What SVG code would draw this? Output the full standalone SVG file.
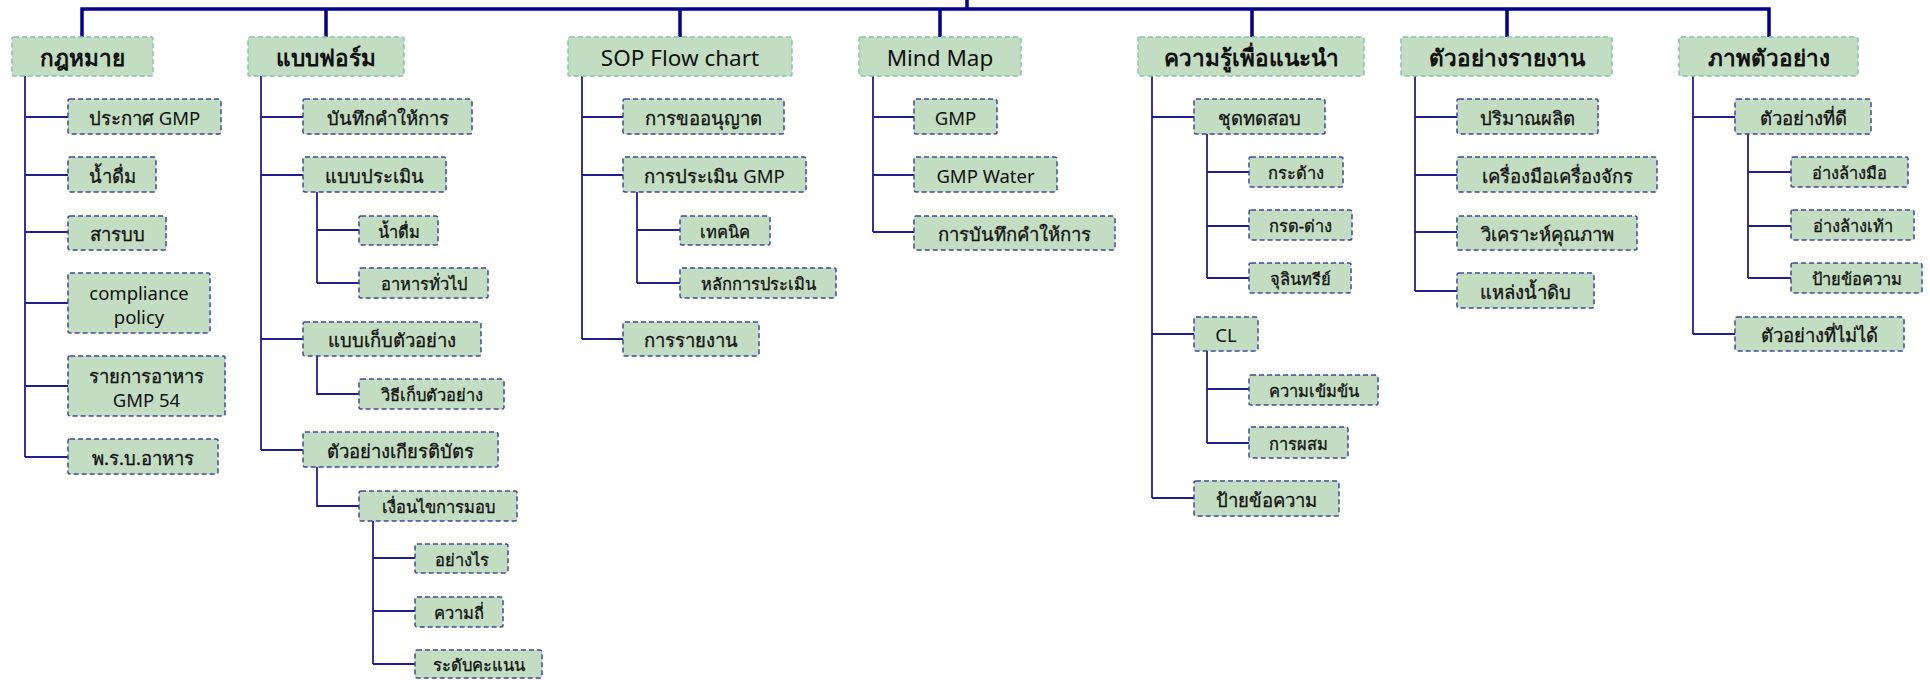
<svg xmlns="http://www.w3.org/2000/svg" width="1930" height="680" viewBox="0 0 1930 680">
  <style>
    .bg { fill: #ffffff; }
    .head rect { fill: #c3ddc2; stroke: #86c4a6; stroke-width: 1.5; stroke-dasharray: 5 3; }
    .node rect { fill: #c3ddc2; stroke: #3c4a9c; stroke-width: 1.5; stroke-dasharray: 5 3; }
    text { font-family: "Noto Sans", "DejaVu Sans", sans-serif; fill: #111111; text-anchor: middle; dominant-baseline: central; }
    .head text { font-size: 22.5px; }
    .head text.b { font-weight: bold; }
    .l2 text { font-size: 18.5px; stroke: #111111; stroke-width: 0.3; }
    .l3 text { font-size: 16.5px; stroke: #111111; stroke-width: 0.3; }
    .node .lat, .node text.lat { stroke: none; }
    .trunk { fill: none; stroke: #00008a; stroke-width: 3.5; }
    .branch { fill: none; stroke: #1e1e90; stroke-width: 1.8; }
  </style>
  <rect class="bg" x="0" y="0" width="1930" height="680"/>

  <!-- connectors -->
  <g id="connectors">
    <path class="trunk" d="M967 0V9 M82 37V9H1769V37 M326 9V37 M680 9V37 M940 9V37 M1252 9V37 M1507 9V37"/>
    <!-- law -->
    <path class="branch" d="M25 76V457 M25 117H68 M25 175H68 M25 232H68 M25 303H68 M25 386H68 M25 457H68"/>
    <!-- forms -->
    <path class="branch" d="M261 76V450 M261 117H303 M261 175H303 M261 339H303 M261 450H303
      M317 192V283 M317 230H359 M317 283H359
      M317 356V394H359
      M317 467V506H359
      M373 521V664 M373 558H415 M373 611H415 M373 664H415"/>
    <!-- SOP -->
    <path class="branch" d="M582 76V339 M582 117H623 M582 175H623 M582 339H623 M637 192V283 M637 230H680 M637 283H680"/>
    <!-- mind map -->
    <path class="branch" d="M873 76V232 M873 117H914 M873 175H914 M873 232H914"/>
    <!-- knowledge -->
    <path class="branch" d="M1152 76V498 M1152 117H1194 M1152 334H1194 M1152 498H1194
      M1207 134V278 M1207 172H1249 M1207 226H1249 M1207 278H1249
      M1207 351V443 M1207 389H1249 M1207 443H1249"/>
    <!-- reports -->
    <path class="branch" d="M1415 76V291 M1415 117H1457 M1415 175H1457 M1415 232H1457 M1415 291H1457"/>
    <!-- pictures -->
    <path class="branch" d="M1693 76V334 M1693 117H1735 M1693 334H1735 M1748 134V278 M1748 172H1791 M1748 226H1791 M1748 278H1791"/>
  </g>

  <!-- top level -->
  <g id="n-law" class="head"><rect x="12" y="37" width="141" height="39" rx="2"/><text class="b" x="82.5" y="57">กฎหมาย</text></g>
  <g id="n-forms" class="head"><rect x="248" y="37" width="156" height="39" rx="2"/><text class="b" x="326" y="57">แบบฟอร์ม</text></g>
  <g id="n-sop" class="head"><rect x="568" y="37" width="224" height="39" rx="2"/><text x="680" y="57">SOP Flow chart</text></g>
  <g id="n-mindmap" class="head"><rect x="859" y="37" width="162" height="39" rx="2"/><text x="940" y="57">Mind Map</text></g>
  <g id="n-knowledge" class="head"><rect x="1138" y="37" width="226" height="39" rx="2"/><text class="b" x="1251" y="57">ความรู้เพื่อแนะนำ</text></g>
  <g id="n-reports" class="head"><rect x="1401" y="37" width="211" height="39" rx="2"/><text class="b" x="1506.5" y="57">ตัวอย่างรายงาน</text></g>
  <g id="n-pictures" class="head"><rect x="1679" y="37" width="179" height="39" rx="2"/><text class="b" x="1768.5" y="57">ภาพตัวอย่าง</text></g>

  <!-- law -->
  <g id="n-law-gmp" class="node l2"><rect x="68" y="99" width="153" height="35" rx="2"/><text x="144.5" y="117">ประกาศ <tspan class="lat">GMP</tspan></text></g>
  <g id="n-law-water" class="node l2"><rect x="68" y="157" width="88" height="35" rx="2"/><text x="112" y="175">น้ำดื่ม</text></g>
  <g id="n-law-register" class="node l2"><rect x="68" y="216" width="98" height="34" rx="2"/><text x="117" y="233">สารบบ</text></g>
  <g id="n-law-compliance" class="node l2"><rect x="68" y="273" width="142" height="60" rx="2"/><text class="lat" x="139" y="292">compliance</text><text class="lat" x="139" y="316">policy</text></g>
  <g id="n-law-list" class="node l2"><rect x="68" y="356" width="157" height="60" rx="2"/><text x="146.5" y="375">รายการอาหาร</text><text class="lat" x="146.5" y="399">GMP 54</text></g>
  <g id="n-law-act" class="node l2"><rect x="68" y="439" width="150" height="35" rx="2"/><text x="143" y="457">พ.ร.บ.อาหาร</text></g>

  <!-- forms -->
  <g id="n-forms-record" class="node l2"><rect x="303" y="99" width="169" height="35" rx="2"/><text x="387.5" y="117">บันทึกคำให้การ</text></g>
  <g id="n-forms-eval" class="node l2"><rect x="303" y="157" width="143" height="35" rx="2"/><text x="374.5" y="175">แบบประเมิน</text></g>
  <g id="n-forms-eval-water" class="node l3"><rect x="359" y="216" width="79" height="29" rx="2"/><text x="398.5" y="231">น้ำดื่ม</text></g>
  <g id="n-forms-eval-food" class="node l3"><rect x="359" y="268" width="129" height="30" rx="2"/><text x="423.5" y="283">อาหารทั่วไป</text></g>
  <g id="n-forms-sample" class="node l2"><rect x="303" y="322" width="178" height="34" rx="2"/><text x="392" y="339">แบบเก็บตัวอย่าง</text></g>
  <g id="n-forms-sample-method" class="node l3"><rect x="359" y="379" width="145" height="30" rx="2"/><text x="431.5" y="394">วิธีเก็บตัวอย่าง</text></g>
  <g id="n-forms-cert" class="node l2"><rect x="303" y="432" width="195" height="35" rx="2"/><text x="400.5" y="450">ตัวอย่างเกียรติบัตร</text></g>
  <g id="n-forms-cert-cond" class="node l3"><rect x="359" y="491" width="158" height="30" rx="2"/><text x="438" y="506">เงื่อนไขการมอบ</text></g>
  <g id="n-forms-cert-how" class="node l3"><rect x="415" y="544" width="93" height="29" rx="2"/><text x="461.5" y="559">อย่างไร</text></g>
  <g id="n-forms-cert-freq" class="node l3"><rect x="415" y="597" width="88" height="30" rx="2"/><text x="459" y="612">ความถี่</text></g>
  <g id="n-forms-cert-level" class="node l3"><rect x="415" y="650" width="127" height="28" rx="2"/><text x="478.5" y="664">ระดับคะแนน</text></g>

  <!-- SOP -->
  <g id="n-sop-permit" class="node l2"><rect x="623" y="99" width="161" height="35" rx="2"/><text x="703.5" y="117">การขออนุญาต</text></g>
  <g id="n-sop-eval" class="node l2"><rect x="623" y="157" width="183" height="35" rx="2"/><text x="714.5" y="175">การประเมิน <tspan class="lat">GMP</tspan></text></g>
  <g id="n-sop-eval-tech" class="node l3"><rect x="680" y="216" width="90" height="29" rx="2"/><text x="725" y="231">เทคนิค</text></g>
  <g id="n-sop-eval-principle" class="node l3"><rect x="680" y="268" width="156" height="30" rx="2"/><text x="758" y="283">หลักการประเมิน</text></g>
  <g id="n-sop-report" class="node l2"><rect x="623" y="322" width="136" height="34" rx="2"/><text x="691" y="339">การรายงาน</text></g>

  <!-- mind map -->
  <g id="n-mm-gmp" class="node l2"><rect x="914" y="99" width="83" height="35" rx="2"/><text class="lat" x="955.5" y="117">GMP</text></g>
  <g id="n-mm-water" class="node l2"><rect x="914" y="157" width="143" height="35" rx="2"/><text class="lat" x="985.5" y="175">GMP Water</text></g>
  <g id="n-mm-record" class="node l2"><rect x="914" y="216" width="201" height="34" rx="2"/><text x="1014.5" y="233">การบันทึกคำให้การ</text></g>

  <!-- knowledge -->
  <g id="n-kn-kit" class="node l2"><rect x="1194" y="99" width="131" height="35" rx="2"/><text x="1259.5" y="117">ชุดทดสอบ</text></g>
  <g id="n-kn-kit-hard" class="node l3"><rect x="1249" y="157" width="94" height="30" rx="2"/><text x="1296" y="172">กระด้าง</text></g>
  <g id="n-kn-kit-ph" class="node l3"><rect x="1249" y="210" width="103" height="30" rx="2"/><text x="1300.5" y="225">กรด-ด่าง</text></g>
  <g id="n-kn-kit-micro" class="node l3"><rect x="1249" y="263" width="102" height="30" rx="2"/><text x="1300" y="278">จุลินทรีย์</text></g>
  <g id="n-kn-cl" class="node l2"><rect x="1194" y="317" width="64" height="34" rx="2"/><text class="lat" x="1226" y="334">CL</text></g>
  <g id="n-kn-cl-conc" class="node l3"><rect x="1249" y="375" width="129" height="30" rx="2"/><text x="1313.5" y="390">ความเข้มข้น</text></g>
  <g id="n-kn-cl-mix" class="node l3"><rect x="1249" y="427" width="99" height="31" rx="2"/><text x="1298.5" y="443">การผสม</text></g>
  <g id="n-kn-sign" class="node l2"><rect x="1194" y="481" width="145" height="35" rx="2"/><text x="1266.5" y="499">ป้ายข้อความ</text></g>

  <!-- reports -->
  <g id="n-rp-volume" class="node l2"><rect x="1457" y="99" width="141" height="35" rx="2"/><text x="1527.5" y="117">ปริมาณผลิต</text></g>
  <g id="n-rp-machine" class="node l2"><rect x="1457" y="157" width="200" height="35" rx="2"/><text x="1557" y="175">เครื่องมือเครื่องจักร</text></g>
  <g id="n-rp-quality" class="node l2"><rect x="1457" y="216" width="180" height="34" rx="2"/><text x="1547" y="233">วิเคราะห์คุณภาพ</text></g>
  <g id="n-rp-source" class="node l2"><rect x="1457" y="273" width="137" height="35" rx="2"/><text x="1525.5" y="291">แหล่งน้ำดิบ</text></g>

  <!-- pictures -->
  <g id="n-pic-good" class="node l2"><rect x="1735" y="99" width="136" height="35" rx="2"/><text x="1803" y="117">ตัวอย่างที่ดี</text></g>
  <g id="n-pic-good-hand" class="node l3"><rect x="1791" y="157" width="117" height="30" rx="2"/><text x="1849.5" y="172">อ่างล้างมือ</text></g>
  <g id="n-pic-good-foot" class="node l3"><rect x="1791" y="210" width="123" height="30" rx="2"/><text x="1852.5" y="225">อ่างล้างเท้า</text></g>
  <g id="n-pic-good-sign" class="node l3"><rect x="1791" y="263" width="131" height="30" rx="2"/><text x="1856.5" y="278">ป้ายข้อความ</text></g>
  <g id="n-pic-bad" class="node l2"><rect x="1735" y="317" width="169" height="34" rx="2"/><text x="1819.5" y="334">ตัวอย่างที่ไม่ได้</text></g>
</svg>
